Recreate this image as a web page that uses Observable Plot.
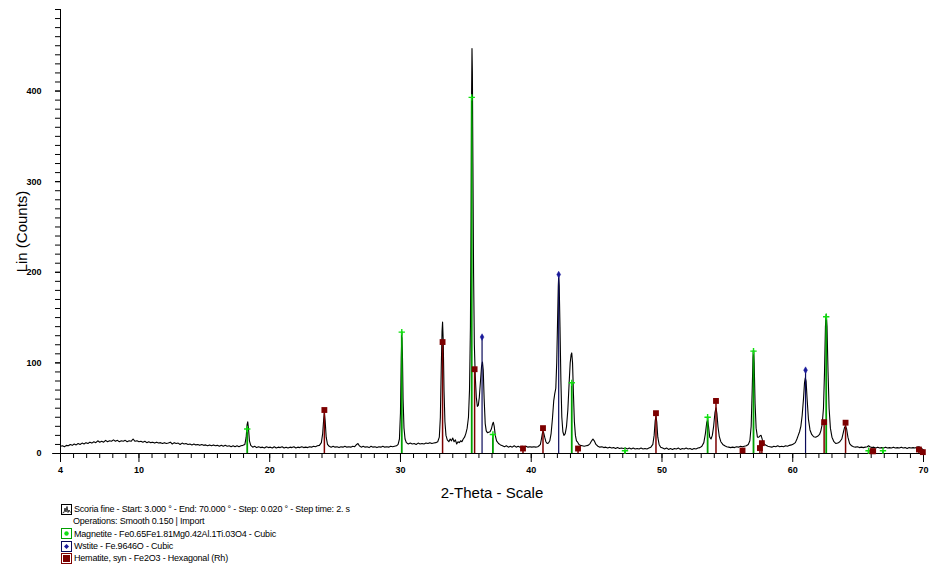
<!DOCTYPE html>
<html>
<head>
<meta charset="utf-8">
<script src="https://cdn.jsdelivr.net/npm/d3@7"></script>
<script src="https://cdn.jsdelivr.net/npm/@observablehq/plot@0.6"></script>
<style>
  html, body { margin: 0; padding: 0; background: #fff; }
  #chart svg { display: block; background: #fff; }
  #legend { margin-top: 3px; padding-left: 61px; font-family: "Liberation Sans", Arial, sans-serif; font-size: 9px; letter-spacing: -0.2px; color: #000; }
  #legend .row { height: 12.3px; line-height: 12.3px; display: flex; align-items: center; white-space: nowrap; }
  #legend svg { flex: none; margin-right: 2px; }
  #legend .indent { padding-left: 12px; }
</style>
</head>
<body>
<div id="chart"></div>
<div id="legend"></div>
<script>
// ---- Data ----
// Scoria fine pattern: [2-Theta (deg), Lin (Counts)]
const pattern = [
[4.0,8],[4.15,8.5],[4.3,7.5],[4.45,9],[4.6,8.5],[4.75,10],[4.9,9],[5.05,10.5],[5.2,9.5],[5.35,11],[5.5,10],[5.65,11.5],[5.8,10.5],[5.95,12],[6.1,11],[6.25,12.5],[6.4,11.5],[6.55,13],[6.7,12],[6.85,14],[7.0,12.5],[7.15,13.5],[7.3,12.5],[7.45,14.5],[7.6,13],[7.75,14],[7.9,13.5],[8.05,15],[8.2,13.5],[8.35,14.5],[8.5,13],[8.65,14],[8.8,13.5],[8.95,14.5],[9.1,13],[9.25,14],[9.4,13.5],[9.55,16],[9.7,13.5],[9.85,14],
[10.0,13],[10.15,13.5],[10.3,12.5],[10.45,13.5],[10.6,12],[10.75,13],[10.9,12],[11.05,12.5],[11.2,11.5],[11.35,12.5],[11.5,11.5],[11.65,12],[11.8,11],[11.95,12],[12.1,11],[12.25,11.5],[12.4,12.5],[12.55,10.5],[12.7,12],[12.85,11],[13.0,11.5],[13.15,10],[13.3,11.5],[13.45,10.5],[13.6,11],[13.75,10],[13.9,10.5],[14.05,9.5],[14.2,10.5],[14.35,9.5],[14.5,10],[14.65,9],[14.8,10],[14.95,9],[15.1,9.5],[15.25,8.5],[15.4,9.5],[15.55,8.5],[15.7,9.5],[15.85,8.5],[16.0,9],[16.15,8],[16.3,9],[16.45,8],[16.6,9],[16.75,8],[16.9,8.5],[17.05,7.5],[17.2,8.5],[17.35,7.5],[17.5,8.5],[17.65,7.5],[17.8,8.5],[17.95,9],
[18.1,10],[18.2,18],[18.27,32],[18.32,35],[18.38,27],[18.45,14],[18.55,9],[18.7,7],[18.85,8],[19.0,6.5],[19.15,7.5],[19.3,6.5],[19.45,7],[19.6,6],[19.75,7.5],[19.9,6.5],[20.05,7],[20.2,6],[20.35,7.5],[20.5,6],[20.65,7],[20.8,6.5],[20.95,7.5],[21.1,6],[21.25,7],[21.4,6],[21.55,7],[21.7,6.5],[21.85,7.5],[22.0,6],[22.15,7],[22.3,6.5],[22.45,7.5],[22.6,6.5],[22.75,7],[22.9,6.5],[23.05,7.5],[23.2,7],[23.35,8],[23.5,7.5],[23.65,8.5],[23.8,9],[23.95,12],
[24.05,22],[24.13,38],[24.18,44.5],[24.24,36],[24.32,18],[24.42,10],[24.55,8],[24.7,7],[24.85,8],[25.0,7],[25.15,7.5],[25.3,6.5],[25.45,7.5],[25.6,7],[25.75,8],[25.9,7],[26.05,7.5],[26.2,7],[26.35,8],[26.5,7.5],[26.65,10],[26.75,11],[26.85,8.5],[27.0,7],[27.15,8],[27.3,7],[27.45,7.5],[27.6,6.5],[27.75,8],[27.9,7],[28.05,7.5],[28.2,6.5],[28.35,7.5],[28.5,7],[28.65,8],[28.8,7],[28.95,7.5],[29.1,7],[29.25,8],[29.4,7.5],[29.55,8],[29.7,8.5],[29.82,10],[29.92,16],
[30.0,45],[30.06,105],[30.1,128],[30.15,110],[30.2,60],[30.27,28],[30.35,16],[30.45,12],[30.6,10.5],[30.75,11.5],[30.9,10.5],[31.05,11],[31.2,10],[31.35,11.5],[31.5,10.5],[31.65,11],[31.8,10.5],[31.95,11.5],[32.1,11],[32.25,12],[32.4,11],[32.55,11.5],[32.7,12],[32.85,13],[32.97,18],
[33.05,40],[33.12,95],[33.18,135],[33.22,145],[33.27,125],[33.33,70],[33.4,35],[33.48,20],[33.58,15],[33.7,13],[33.8,16],[33.9,14],[34.0,17],[34.1,13],[34.2,15],[34.3,10.5],[34.4,13],[34.5,12],[34.6,14],[34.7,13],[34.8,16],[34.9,18],[35.0,22],[35.1,28],[35.2,40],[35.28,70],[35.35,140],[35.4,260],[35.44,400],[35.47,447],[35.5,420],[35.54,320],[35.59,200],[35.65,120],[35.72,85],[35.8,62],[35.88,52],[35.95,53],
[36.03,62],[36.12,80],[36.2,96],[36.27,101],[36.33,92],[36.4,60],[36.48,33],[36.56,25],[36.65,23],[36.75,23.5],[36.85,24],[36.95,27],[37.03,32],[37.1,34.5],[37.17,30],[37.25,20],[37.35,14],[37.5,11],[37.65,9.5],[37.8,8.5],[37.95,7.5],[38.1,8.5],[38.25,7],[38.4,8],[38.55,7],[38.7,8.5],[38.85,7],[39.0,8],[39.15,7],[39.3,8],[39.45,7.5],[39.6,8],[39.75,7],[39.9,7.5],[40.05,7],[40.2,7.5],[40.35,7],[40.5,7.5],[40.6,8.5],[40.7,10],[40.78,16],[40.85,22],[40.9,24.5],[40.95,23],
[41.03,18],[41.12,13],[41.22,11],[41.32,11.5],[41.42,14],[41.52,22],[41.62,38],[41.72,58],[41.8,66],[41.88,72],[41.95,100],[42.02,150],[42.07,185],[42.1,195],[42.14,185],[42.2,140],[42.27,80],[42.34,40],[42.42,24],[42.5,20],[42.6,22],[42.7,30],[42.8,48],[42.9,78],[42.98,100],[43.05,109],[43.1,111],[43.16,100],[43.23,65],[43.3,35],[43.38,20],[43.46,14],[43.55,12.5],[43.65,10],[43.75,9],[43.9,8.5],
[44.05,8],[44.2,8.5],[44.35,9],[44.5,11],[44.62,14],[44.72,16],[44.82,14],[44.95,10],[45.1,8],[45.25,7],[45.4,7.5],[45.55,6.5],[45.7,7],[45.85,6],[46.0,7],[46.15,6],[46.3,6.5],[46.45,5.5],[46.6,6.5],[46.75,5.5],[46.9,6],[47.05,5.5],[47.2,6],[47.35,5],[47.5,6],[47.65,5],[47.8,6],[47.95,5],[48.1,5.5],[48.25,5],[48.4,6],[48.55,5],[48.7,5.5],[48.85,5],[49.0,6],[49.15,7],[49.3,10],[49.4,20],[49.48,36],[49.54,41],[49.6,35],[49.68,18],[49.78,10],[49.9,7],
[50.05,6],[50.2,5],[50.35,6],[50.5,4.5],[50.65,5.5],[50.8,4.5],[50.95,5.5],[51.1,5],[51.25,6],[51.4,4.5],[51.55,5.5],[51.7,5],[51.85,6],[52.0,5],[52.15,5.5],[52.3,4.5],[52.45,5.5],[52.6,5],[52.75,6],[52.9,6.5],[53.05,8],[53.2,12],[53.32,22],[53.42,34],[53.49,37],[53.56,30],[53.65,18],[53.75,16],[53.85,20],[53.95,30],[54.05,45],[54.13,50.5],[54.2,44],[54.28,30],[54.38,19],[54.5,13],[54.65,10],[54.8,8.5],[54.95,7.5],
[55.1,7],[55.25,6.5],[55.4,7],[55.55,6.5],[55.7,7.5],[55.85,7],[56.0,8],[56.15,7.5],[56.3,8],[56.45,8.5],[56.6,10],[56.72,14],[56.82,30],[56.9,70],[56.96,105],[57.0,114.5],[57.05,100],[57.12,55],[57.2,28],[57.3,18],[57.4,18],[57.5,19.5],[57.58,20],[57.68,15],[57.8,11],[57.95,9],[58.1,8],[58.25,7.5],[58.4,7],[58.55,8],[58.7,7.5],[58.85,8.5],[59.0,7.5],[59.15,8],[59.3,7.5],[59.45,8.5],[59.6,8],[59.75,9],[59.9,9.5],
[60.05,10.5],[60.2,12],[60.32,16],[60.42,20],[60.52,24],[60.62,30],[60.72,42],[60.82,60],[60.9,78],[60.96,83.5],[61.02,80],[61.1,60],[61.2,38],[61.32,26],[61.45,21],[61.6,18.5],[61.75,18],[61.9,19],[62.05,21],[62.15,25],[62.25,32],[62.35,50],[62.43,90],[62.5,140],[62.56,153.5],[62.62,140],[62.7,90],[62.78,50],[62.88,28],[63.0,18],[63.15,13],[63.3,11],[63.45,11.5],[63.6,13],[63.75,16],[63.88,24],[63.97,29],[64.04,30],[64.12,27],[64.22,18],[64.35,11],[64.5,8.5],[64.65,7.5],[64.8,7],[64.95,7.5],
[65.1,6.5],[65.25,7],[65.4,6.5],[65.55,7],[65.7,7.5],[65.8,8.5],[65.9,7.5],[66.05,6.5],[66.2,7],[66.35,6],[66.5,7],[66.65,6],[66.8,6.5],[66.95,6],[67.1,7],[67.25,6],[67.4,6.5],[67.55,6],[67.7,7],[67.85,6],[68.0,6.5],[68.15,6],[68.3,7],[68.45,6],[68.6,6.5],[68.75,5.5],[68.9,6.5],[69.05,6],[69.2,6.5],[69.35,6],[69.5,7],[69.65,7.5],[69.8,6],[69.9,5],[70.0,4]
];

// Reference phase sticks
const magnetiteTheta  = [18.28, 30.1, 35.45, 37.07, 43.1, 47.17, 53.49, 57.0, 62.56, 65.8, 66.9];
const magnetiteCounts = [27, 134, 393, 21, 78, 3, 40, 113, 151, 3, 3];
const wustiteTheta    = [36.24, 42.1, 60.98];
const wustiteCounts   = [128.5, 197.5, 92];
const hematiteTheta   = [24.18, 33.22, 35.67, 39.37, 40.9, 43.58, 49.54, 54.13, 56.16, 57.49, 57.64, 62.4, 64.04, 66.1, 66.15, 69.65, 69.95];
const hematiteCounts  = [48, 123, 93, 5.5, 28, 5.5, 44.5, 58, 3.3, 6, 11.4, 34.6, 34, 2.5, 2.5, 4.4, 1.5];

// Axis ticks
const xMajorTicks = [4, 10, 20, 30, 40, 50, 60, 70];
const xMinorTicks = d3.range(4, 71, 1);
const yMajorTicks = [0, 100, 200, 300, 400];
const yMinorTicks = d3.range(0, 491, 10);

// Legend entries
const legendLines = [
  "Scoria fine - Start: 3.000 ° - End: 70.000 ° - Step: 0.020 ° - Step time: 2. s",
  "Operations: Smooth 0.150 | Import",
  "Magnetite - Fe0.65Fe1.81Mg0.42Al.1Ti.03O4 - Cubic",
  "Wstite - Fe.9646O - Cubic",
  "Hematite, syn - Fe2O3 - Hexagonal (Rh)"
];

// ---- Build ----
const toRows = (xs, ys) => xs.map((x, i) => ({x, y: ys[i]}));
const magnetite = toRows(magnetiteTheta, magnetiteCounts);
const wustite = toRows(wustiteTheta, wustiteCounts);
const hematite = toRows(hematiteTheta, hematiteCounts);

const GREEN = "#00a000", GREEN_MK = "#10e010", NAVY = "#0a0a5a", NAVY_MK = "#1a1a9a", RED = "#7d0000";
const tickFont = {fontFamily: "'Liberation Sans Narrow', 'Arial Narrow', 'Liberation Sans', Arial, sans-serif", fontSize: 9, fontWeight: "bold"};

const chart = Plot.plot({
  width: 931,
  height: 500,
  marginLeft: 60,
  marginRight: 8,
  marginTop: 9,
  marginBottom: 47,
  x: {domain: [4, 70]},
  y: {domain: [0, 490]},
  style: {fontFamily: "'Liberation Sans', Arial, sans-serif", background: "#fff", color: "#000", overflow: "visible"},
  marks: [
    Plot.axisX({ticks: xMinorTicks, tickSize: 5, tickFormat: () => "", label: null}),
    Plot.axisX({ticks: xMajorTicks, tickSize: 9, tickPadding: 4, tickFormat: d => String(d), label: null, ...tickFont}),
    Plot.axisY({ticks: yMinorTicks, tickSize: 5, tickFormat: () => "", label: null}),
    Plot.axisY({ticks: yMajorTicks, tickSize: 5, tickPadding: 14, tickFormat: d => String(d), label: null, ...tickFont}),
    Plot.ruleX([4], {stroke: "#000", strokeWidth: 1}),
    Plot.ruleY([0], {x1: 3.4, x2: 70.1, stroke: "#000", strokeWidth: 1}),
    Plot.line(pattern, {x: d => d[0], y: d => d[1], stroke: "#000", strokeWidth: 1.1, curve: "linear"}),
    Plot.ruleX(magnetite, {x: "x", y1: 0, y2: "y", stroke: GREEN, strokeWidth: 1.8}),
    Plot.ruleX(wustite, {x: "x", y1: 0, y2: "y", stroke: NAVY, strokeWidth: 1.2}),
    Plot.ruleX(hematite, {x: "x", y1: 0, y2: "y", stroke: RED, strokeWidth: 1.5}),
    Plot.dot(magnetite, {x: "x", y: "y", symbol: "plus", r: 2.2, stroke: GREEN_MK, strokeWidth: 1.4}),
    Plot.dot(wustite, {x: "x", y: "y", symbol: "diamond", r: 2, fill: NAVY_MK, stroke: NAVY_MK, strokeWidth: 0.5}),
    Plot.dot(hematite, {x: "x", y: "y", symbol: "square", r: 3.3, fill: RED, stroke: "none"}),
    Plot.text(["Lin (Counts)"], {frameAnchor: "left", dx: -38, rotate: -90, fontSize: 15, textAnchor: "middle", lineAnchor: "middle", fill: "#000"}),
    Plot.text(["2-Theta - Scale"], {frameAnchor: "bottom", dy: 40, fontSize: 15, textAnchor: "middle", lineAnchor: "middle", fill: "#000"})
  ]
});
document.getElementById("chart").appendChild(chart);

// ---- Legend ----
const icons = [
  `<svg width="11" height="11"><rect x="0.5" y="0.5" width="10" height="10" fill="#fff" stroke="#000"/><polyline points="1.5,9 3,8.5 4,4 5,8 6,2.5 7,8.5 8,6 9.5,8.5" fill="none" stroke="#000" stroke-width="0.8"/></svg>`,
  null,
  `<svg width="11" height="11"><rect x="0.5" y="0.5" width="10" height="10" fill="#fff" stroke="${GREEN}"/><circle cx="5.5" cy="5.5" r="2.2" fill="${GREEN_MK}"/></svg>`,
  `<svg width="11" height="11"><rect x="0.5" y="0.5" width="10" height="10" fill="#fff" stroke="${NAVY}"/><path d="M5.5,3 L8,5.5 L5.5,8 L3,5.5 Z" fill="${NAVY_MK}"/></svg>`,
  `<svg width="11" height="11"><rect x="0.5" y="0.5" width="10" height="10" fill="#fff" stroke="${RED}"/><rect x="2" y="2" width="7" height="7" fill="${RED}"/></svg>`
];
const legend = document.getElementById("legend");
legendLines.forEach((t, i) => {
  const row = document.createElement("div");
  row.className = "row" + (icons[i] ? "" : " indent");
  row.innerHTML = (icons[i] || "") + `<span></span>`;
  row.querySelector("span").textContent = t;
  legend.appendChild(row);
});
</script>
</body>
</html>
